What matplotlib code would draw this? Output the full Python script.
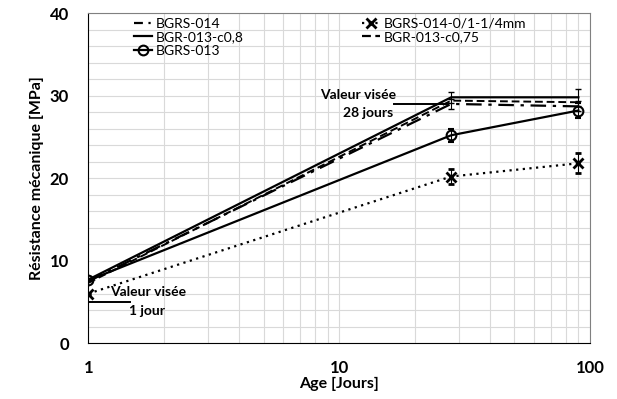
import matplotlib
matplotlib.use("Agg")
import matplotlib.pyplot as plt
from matplotlib.lines import Line2D
from matplotlib.ticker import FixedLocator, NullFormatter

plt.rcParams['font.family'] = ['Lato', 'DejaVu Sans']

# données
ages = [1, 28, 90]
bgrs_014 = [7.5, 29.0, 28.7]
bgrs_014_sable = [6.0, 20.2, 21.8]
bgr_013_c08 = [7.7, 29.8, 29.8]
bgr_013_c075 = [7.3, 29.4, 29.2]
bgrs_013 = [7.6, 25.2, 28.2]

err_014 = [0.0, 0.6, 0.6]
err_014_sable = [0.0, 0.9, 1.2]
err_c08 = [0.0, 0.7, 1.0]
err_013 = [0.0, 0.8, 0.9]

cible_28 = 29.0
cible_1 = 5.0

styles = {
    'BGRS-014': dict(ls=(0, (7, 3, 1.5, 3)), marker=''),
    'BGRS-014-0/1-1/4mm': dict(ls=(0, (1, 2)), marker='x', ms=7, mew=2),
    'BGR-013-c0,8': dict(ls='-', marker=''),
    'BGR-013-c0,75': dict(ls=(0, (4, 2)), marker=''),
    'BGRS-013': dict(ls='-', marker='o', ms=7, mfc='none', mew=1.5),
}

fig = plt.figure(figsize=(6.17, 3.99), dpi=100)
ax = fig.add_axes([0.143, 0.14, 0.813, 0.827])

ax.set_xscale('log')
ax.set_xlim(1, 100)
ax.set_ylim(0, 40)

kw = dict(color='black', lw=1.6, capsize=2, elinewidth=0.8)
ax.errorbar(ages, bgrs_014, yerr=err_014, **styles['BGRS-014'], **kw)
ax.errorbar(ages, bgrs_014_sable, yerr=err_014_sable,
            **styles['BGRS-014-0/1-1/4mm'], **kw)
ax.errorbar(ages, bgr_013_c08, yerr=err_c08, **styles['BGR-013-c0,8'], **kw)
ax.plot(ages, bgr_013_c075, color='black', lw=1.4, **styles['BGR-013-c0,75'])
ax.errorbar(ages, bgrs_013, yerr=err_013, **styles['BGRS-013'], **kw)

# valeurs visées
ax.plot([16.6, 27.3], [cible_28, cible_28], color='black', lw=1.4)
ax.text(16.9, 30.1, 'Valeur visée', ha='right', va='center',
        fontsize=10, fontweight='bold')
ax.text(16.4, 27.9, '28 jours', ha='right', va='center',
        fontsize=10, fontweight='bold')
ax.plot([1, 1.47], [cible_1, cible_1], color='black', lw=1.4)
ax.text(1.22, 6.2, 'Valeur visée', ha='left', va='center',
        fontsize=10, fontweight='bold')
ax.text(1.45, 3.9, '1 jour', ha='left', va='center',
        fontsize=10, fontweight='bold')

ax.set_yticks([0, 10, 20, 30, 40])
ax.yaxis.set_minor_locator(FixedLocator(range(0, 41, 2)))
ax.xaxis.set_minor_locator(FixedLocator([i * d for d in (1, 10) for i in range(2, 10)]))
ax.xaxis.set_minor_formatter(NullFormatter())
ax.set_xticks([1, 10, 100])
ax.set_xticklabels(['1', '10', '100'])
ax.grid(which='both', color='#d9d9d9', lw=0.8)
ax.set_axisbelow(True)
ax.tick_params(which='both', length=0, labelsize=12)
ax.tick_params(axis='x', pad=12)
ax.tick_params(axis='y', pad=14)
for lab in ax.get_xticklabels() + ax.get_yticklabels():
    lab.set_fontweight('bold')

for side in ('top', 'right', 'bottom', 'left'):
    ax.spines[side].set_color('#808080')
ax.spines['left'].set_color('black')
ax.spines['bottom'].set_color('black')

ax.set_xlabel('Age [Jours]', fontsize=11.5, fontweight='bold', labelpad=1)
ax.set_ylabel('Résistance mécanique [MPa]', fontsize=11.5, fontweight='bold',
              labelpad=4)

order = ['BGRS-014', 'BGR-013-c0,8', 'BGRS-013',
         'BGRS-014-0/1-1/4mm', 'BGR-013-c0,75']
leg_styles = dict(styles)
leg_styles['BGRS-014'] = dict(ls=(0, (4, 2.5, 1, 2.5)), marker='')
handles = [Line2D([], [], color='black', lw=1.6, **leg_styles[n]) for n in order]
ax.legend(handles, order, ncol=2, loc='upper left', frameon=False,
          fontsize=10, handlelength=1.3, handletextpad=0.3,
          columnspacing=8.5, labelspacing=0.12, borderaxespad=0,
          borderpad=0.2, bbox_to_anchor=(0.085, 0.995))

fig.savefig('out.png', dpi=100)
